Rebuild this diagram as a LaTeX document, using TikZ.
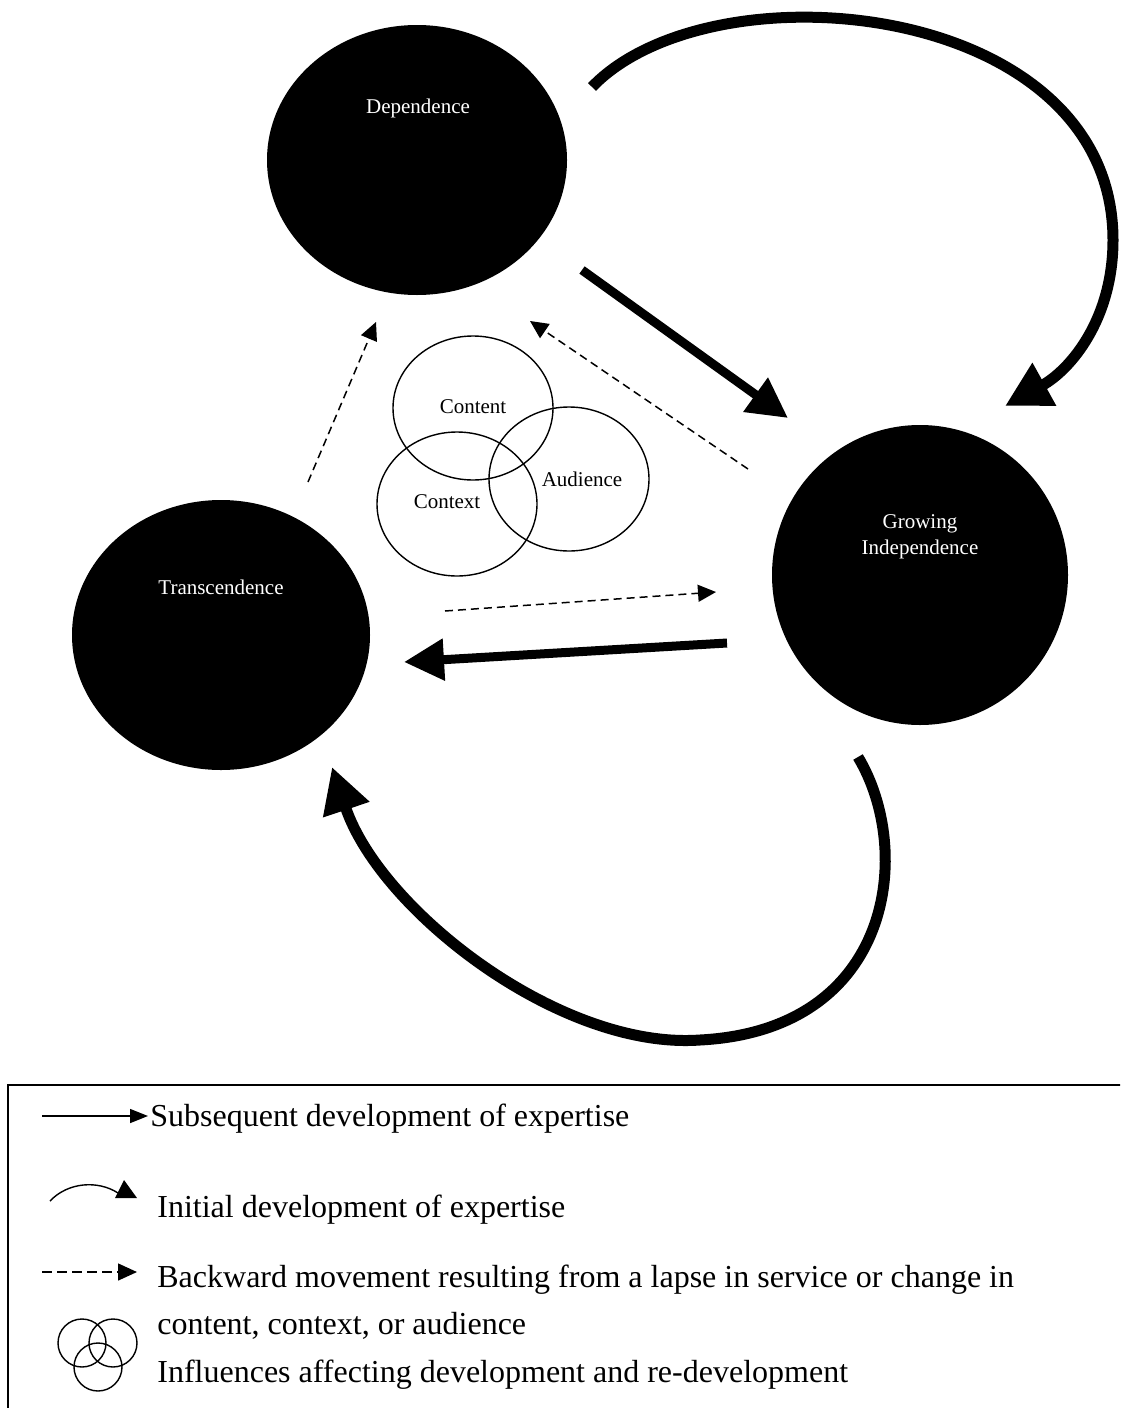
\documentclass[tikz,border=0pt]{standalone}
\usepackage{fontspec}
\setmainfont{Liberation Serif}
\usetikzlibrary{arrows.meta,shapes.geometric}
\begin{document}
\begin{tikzpicture}[x=0.5pt,y=-0.5pt,
  blob/.style={ellipse,fill=black,draw=none,inner sep=0pt,outer sep=0pt},
  wlabel/.style={text=white,font=\fontsize{10.5pt}{13pt}\selectfont,align=center,inner sep=0pt},
  venn/.style={ellipse,draw=black,line width=0.7pt,minimum width=80pt,minimum height=72pt,inner sep=0pt},
  vlabel/.style={font=\fontsize{10.5pt}{13pt}\selectfont,inner sep=0pt},
  fwd/.style={line width=4.5pt,-{Triangle[length=20pt,width=20pt]}},
  loop/.style={line width=5.5pt,-{Triangle[length=22.5pt,width=23pt]}},
  back/.style={line width=0.75pt,dash pattern=on 4pt off 2.5pt,-{Triangle[length=9pt,width=8.5pt]}},
  legtext/.style={anchor=base west,inner sep=0pt,font=\fontsize{16pt}{19pt}\selectfont},
  legvenn/.style={circle,draw,line width=0.7pt,minimum size=24pt,inner sep=0pt}
]
\clip (0,0) rectangle (1120,1408);

% main stages
\node[blob,minimum width=150pt,minimum height=135pt] (dep) at (417,160) {};
\node[blob,minimum width=148pt,minimum height=150pt] (grow) at (920,575) {};
\node[blob,minimum width=149pt,minimum height=135pt] (trans) at (221,635) {};
\node[wlabel] (deplab) at (418,108) {Dependence};
\node[wlabel] (growlab) at (920,537) {Growing\\Independence};
\node[wlabel] (translab) at (221,587) {Transcendence};

% influences
\node[venn] (content) at (473,408) {};
\node[venn] (context) at (457,504) {};
\node[venn] (audience) at (569,479) {};
\node[vlabel] (contentlab) at (473,407) {Content};
\node[vlabel] (contextlab) at (447,502) {Context};
\node[vlabel] (audiencelab) at (582,479) {Audience};

% straight solid arrows
\coordinate (dg1) at (582,270);
\coordinate (dg2) at (788,418);
\draw[fwd] (dg1) -- (dg2);
\coordinate (gt1) at (727,643);
\coordinate (gt2) at (404,662);
\draw[fwd] (gt1) -- (gt2);

% dashed backward arrows
\coordinate (gd1) at (748,469);
\coordinate (gd2) at (530,321);
\draw[back] (gd1) -- (gd2);
\coordinate (td1) at (308,482);
\coordinate (td2) at (376,322);
\draw[back] (td1) -- (td2);
\coordinate (tg1) at (445,611);
\coordinate (tg2) at (716,592);
\draw[back] (tg1) -- (tg2);

% initial development loops
\coordinate (top1) at (592,87);
\coordinate (topm) at (1113,240);
\coordinate (top2) at (1005,406);
\draw[loop] (top1) .. controls (712,-38) and (1113,0) .. (topm)
  .. controls (1113,320) and (1070,370) .. (top2);
\coordinate (bot1) at (858,757);
\coordinate (botm) at (700,1040);
\coordinate (bot2) at (332,767);
\draw[loop] (bot1) .. controls (914,850) and (894,1030) .. (botm)
  .. controls (560,1050) and (380,910) .. (bot2);

% legend
\draw[line width=1pt] (1130,1085) -- (8,1085) -- (8,1420);
\coordinate (l1a) at (42,1116);
\coordinate (l1b) at (148,1116);
\draw[line width=0.75pt,-{Triangle[length=9pt,width=7pt]}] (l1a) -- (l1b);
\node[legtext] (leg1) at (150,1126) {Subsequent development of expertise};

\coordinate (l2a) at (50,1201);
\coordinate (l2b) at (118,1193);
\draw[line width=0.7pt] (l2a) .. controls (68,1182) and (98,1180) .. (l2b);
\fill (115,1198) -- (124,1180) -- (137,1198) -- cycle;
\node[legtext] (leg2) at (157,1217) {Initial development of expertise};

\coordinate (l3a) at (42,1272);
\coordinate (l3b) at (137,1272);
\draw[line width=0.75pt,dash pattern=on 5pt off 2.5pt,-{Triangle[length=9.5pt,width=8.5pt]}] (l3a) -- (l3b);
\node[legtext] (leg3) at (157,1287) {Backward movement resulting from a lapse in service or change in};
\node[legtext] (leg4) at (157,1334) {content, context, or audience};

\node[legvenn] (lv1) at (82,1343) {};
\node[legvenn] (lv2) at (113,1343) {};
\node[legvenn] (lv3) at (98,1367) {};
\node[legtext] (leg5) at (157,1382) {Influences affecting development and re-development};
\end{tikzpicture}
\end{document}
